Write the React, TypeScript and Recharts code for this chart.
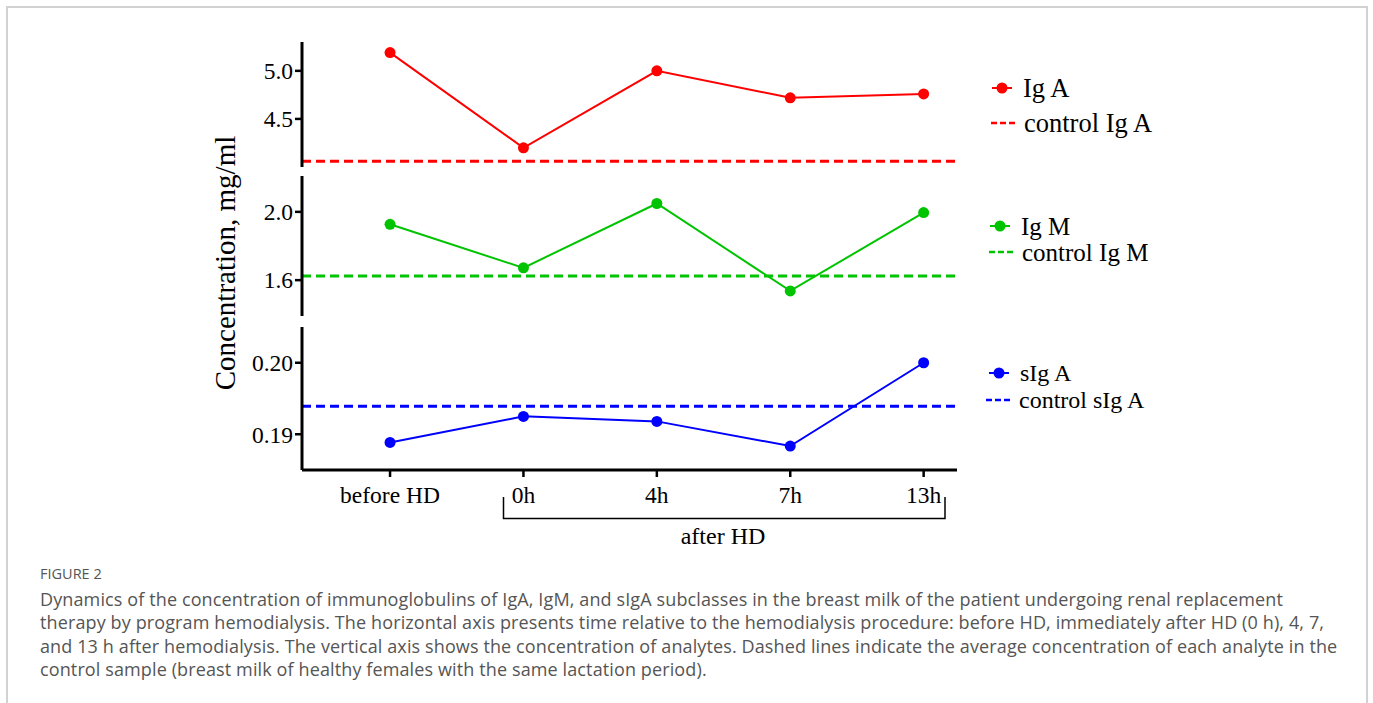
import React from 'react';
import { LineChart, Line, XAxis, YAxis, ReferenceLine } from 'recharts';

// Sampling times
const timePoints = ['before HD', '0h', '4h', '7h', '13h'];

// Concentrations, mg/ml
const igA = [5.19, 4.2, 5.0, 4.72, 4.76];
const igM = [1.927, 1.672, 2.049, 1.537, 1.996];
const sIgA = [0.18885, 0.1925, 0.1918, 0.18835, 0.2];

// Control group averages
const controlIgA = 4.06;
const controlIgM = 1.625;
const controlSIgA = 0.1939;

// Axis ticks
const igATicks = [4.5, 5.0];
const igMTicks = [1.6, 2.0];
const sIgATicks = [0.19, 0.2];
const timeTicks = [0, 1, 2, 3, 4];

const rows = timePoints.map((label, i) => ({
  t: i,
  label,
  igA: igA[i],
  igM: igM[i],
  sIgA: sIgA[i],
}));

const W = 1373;
const H = 703;
const PLOT_LEFT = 302;
const PLOT_RIGHT = 957;
const Y_AXIS_W = 60;
const X_AXIS_H = 30;
const SERIF = '"Liberation Serif", "Times New Roman", serif';
const SANS = '"Open Sans", Lato, sans-serif';

const RED = '#ff0000';
const GREEN = '#00c400';
const BLUE = '#0000ff';

type PanelProps = {
  dataKey: string;
  color: string;
  control: number;
  domain: [number, number];
  ticks: number[];
  digits: number;
  top: number;
  bottom: number;
  showX?: boolean;
};

function Panel({ dataKey, color, control, domain, ticks, digits, top, bottom, showX }: PanelProps) {
  const margin = {
    top,
    bottom: H - bottom - (showX ? X_AXIS_H : 0),
    left: PLOT_LEFT - Y_AXIS_W,
    right: W - PLOT_RIGHT,
  };
  return (
    <div style={{ position: 'absolute', left: 0, top: 0 }}>
      <LineChart width={W} height={H} data={rows} margin={margin}>
        <XAxis
          dataKey="t"
          type="number"
          domain={[-0.66, 4.25]}
          ticks={timeTicks}
          allowDataOverflow
          hide={!showX}
          height={X_AXIS_H}
          tickFormatter={(v: number) => timePoints[v]}
          axisLine={{ stroke: '#000', strokeWidth: 3 }}
          tickLine={{ stroke: '#000', strokeWidth: 2.5 }}
          tickSize={7}
          tickMargin={9}
          tick={{ fill: '#000', fontSize: 23.5, fontFamily: SERIF }}
        />
        <YAxis
          type="number"
          domain={domain}
          ticks={ticks}
          allowDataOverflow
          width={Y_AXIS_W}
          tickFormatter={(v: number) => v.toFixed(digits)}
          axisLine={{ stroke: '#000', strokeWidth: 3 }}
          tickLine={{ stroke: '#000', strokeWidth: 2.5 }}
          tickSize={7}
          tickMargin={2}
          tick={{ fill: '#000', fontSize: 23.5, fontFamily: SERIF }}
        />
        <ReferenceLine y={control} stroke={color} strokeWidth={3} strokeDasharray="9 5" />
        <Line
          dataKey={dataKey}
          stroke={color}
          strokeWidth={2}
          dot={{ r: 5.5, fill: color, stroke: color, strokeWidth: 0 }}
          isAnimationActive={false}
        />
      </LineChart>
    </div>
  );
}

type LegendItem = { y: number; x: number; size: number; label: string; color: string; dashed: boolean };

const legendItems: LegendItem[] = [
  { y: 88, x: 1023, size: 26.5, label: 'Ig A', color: RED, dashed: false },
  { y: 123, x: 1024, size: 26.5, label: 'control Ig A', color: RED, dashed: true },
  { y: 226, x: 1021, size: 25, label: 'Ig M', color: GREEN, dashed: false },
  { y: 252, x: 1022, size: 25, label: 'control Ig M', color: GREEN, dashed: true },
  { y: 373, x: 1020, size: 24, label: 'sIg A', color: BLUE, dashed: false },
  { y: 400, x: 1019, size: 24, label: 'control sIg A', color: BLUE, dashed: true },
];

const captionLines = [
  'Dynamics of the concentration of immunoglobulins of IgA, IgM, and sIgA subclasses in the breast milk of the patient undergoing renal replacement',
  'therapy by program hemodialysis. The horizontal axis presents time relative to the hemodialysis procedure: before HD, immediately after HD (0 h), 4, 7,',
  'and 13 h after hemodialysis. The vertical axis shows the concentration of analytes. Dashed lines indicate the average concentration of each analyte in the',
  'control sample (breast milk of healthy females with the same lactation period).',
];

export default function App() {
  return (
    <div
      style={{
        position: 'absolute',
        left: 0,
        top: 0,
        width: W,
        height: H,
        background: '#fff',
        overflow: 'hidden',
      }}
    >
      <div
        style={{
          position: 'absolute',
          left: 6,
          top: 6,
          width: 1358,
          height: 740,
          border: '2px solid #d2d2d2',
        }}
      />

      <Panel dataKey="igA" color={RED} control={controlIgA} domain={[4.0, 5.3]} ticks={igATicks} digits={1} top={42} bottom={167} />
      <Panel dataKey="igM" color={GREEN} control={controlIgM} domain={[1.39, 2.21]} ticks={igMTicks} digits={1} top={176} bottom={316} />
      <Panel dataKey="sIgA" color={BLUE} control={controlSIgA} domain={[0.185, 0.205]} ticks={sIgATicks} digits={2} top={327} bottom={470} showX />

      <svg width={W} height={H} style={{ position: 'absolute', left: 0, top: 0, pointerEvents: 'none' }}>
        <text
          transform="translate(235, 263) rotate(-90)"
          textAnchor="middle"
          fontFamily={SERIF}
          fontSize={29}
          fill="#000"
        >
          Concentration, mg/ml
        </text>

        {/* after-HD bracket under the time axis */}
        <path d="M503.5 497 V518.5 H945 V497" fill="none" stroke="#000" strokeWidth={1.5} />
        <text x={723} y={536} textAnchor="middle" dominantBaseline="central" fontFamily={SERIF} fontSize={24} fill="#000">
          after HD
        </text>

        {legendItems.map((it) => (
          <g key={it.label}>
            {it.dashed ? (
              <line x1={it.x - 33} x2={it.x - 9} y1={it.y} y2={it.y} stroke={it.color} strokeWidth={2.5} strokeDasharray="6 3" />
            ) : (
              <g>
                <line x1={it.x - 31} x2={it.x - 11} y1={it.y} y2={it.y} stroke={it.color} strokeWidth={2} />
                <circle cx={it.x - 21} cy={it.y} r={5.5} fill={it.color} />
              </g>
            )}
            <text x={it.x} y={it.y} dominantBaseline="central" fontFamily={SERIF} fontSize={it.size} fill="#000">
              {it.label}
            </text>
          </g>
        ))}
      </svg>

      <div
        style={{
          position: 'absolute',
          left: 40,
          top: 565,
          fontFamily: SANS,
          fontSize: 14.5,
          color: '#555',
          lineHeight: '18px',
        }}
      >
        FIGURE 2
      </div>
      <div
        style={{
          position: 'absolute',
          left: 40,
          top: 588,
          fontFamily: SANS,
          fontSize: 18,
          color: '#555',
          lineHeight: '23.3px',
          letterSpacing: '0.12px',
          whiteSpace: 'nowrap',
        }}
      >
        {captionLines.map((l) => (
          <div key={l}>{l}</div>
        ))}
      </div>
    </div>
  );
}
